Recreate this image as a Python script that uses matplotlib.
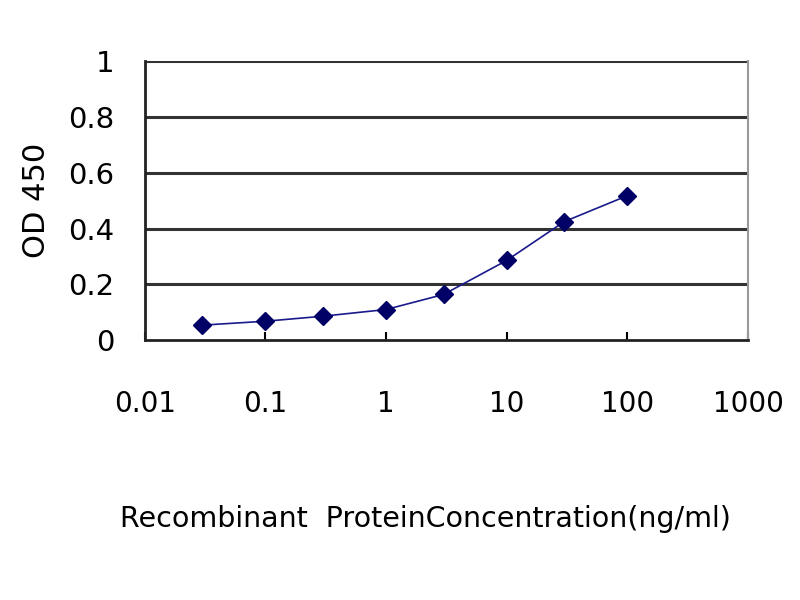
import matplotlib
matplotlib.use("Agg")
import matplotlib.pyplot as plt
from matplotlib.ticker import FixedLocator, NullLocator

plt.rcParams['font.family'] = ['DejaVu Sans']

conc = [0.03, 0.1, 0.3, 1, 3, 10, 30, 100]
od450 = [0.054, 0.068, 0.086, 0.11, 0.164, 0.286, 0.425, 0.518]
xticks = [0.01, 0.1, 1, 10, 100, 1000]
xticklabels = ["0.01", "0.1", "1", "10", "100", "1000"]
yticks = [0, 0.2, 0.4, 0.6, 0.8, 1]
yticklabels = ["0", "0.2", "0.4", "0.6", "0.8", "1"]

fig = plt.figure(figsize=(8, 6), dpi=100)
ax = fig.add_axes([0.181, 0.433, 0.754, 0.465])
ax.set_xscale('log')
ax.set_xlim(0.01, 1000)
ax.set_ylim(0, 1)

for y in yticks[1:]:
    ax.axhline(y, color='#333333', lw=2.2, zorder=1)

ax.plot(conc, od450, color='#1a1a8c', lw=1.2, marker='D', markersize=9,
        markerfacecolor='#000066', markeredgecolor='#000066', zorder=3)

ax.xaxis.set_major_locator(FixedLocator(xticks))
ax.xaxis.set_minor_locator(NullLocator())
ax.set_xticklabels(xticklabels)
ax.set_yticks(yticks)
ax.set_yticklabels(yticklabels)
ax.tick_params(axis='x', direction='in', length=6, width=1.5, pad=36, labelsize=20)
ax.tick_params(axis='y', length=0, pad=22, labelsize=21)

for side in ['left', 'bottom']:
    ax.spines[side].set_color('#222222')
    ax.spines[side].set_linewidth(2)
ax.spines['top'].set_visible(False)
ax.spines['right'].set_color('#999999')
ax.spines['right'].set_linewidth(1.5)

ax.set_ylabel('OD 450', fontsize=22, labelpad=12)
ax.set_xlabel('Recombinant  ProteinConcentration(ng/ml)', fontsize=20.5)
ax.xaxis.set_label_coords(0.465, -0.59)

fig.savefig('out.png', dpi=100, facecolor='white')
